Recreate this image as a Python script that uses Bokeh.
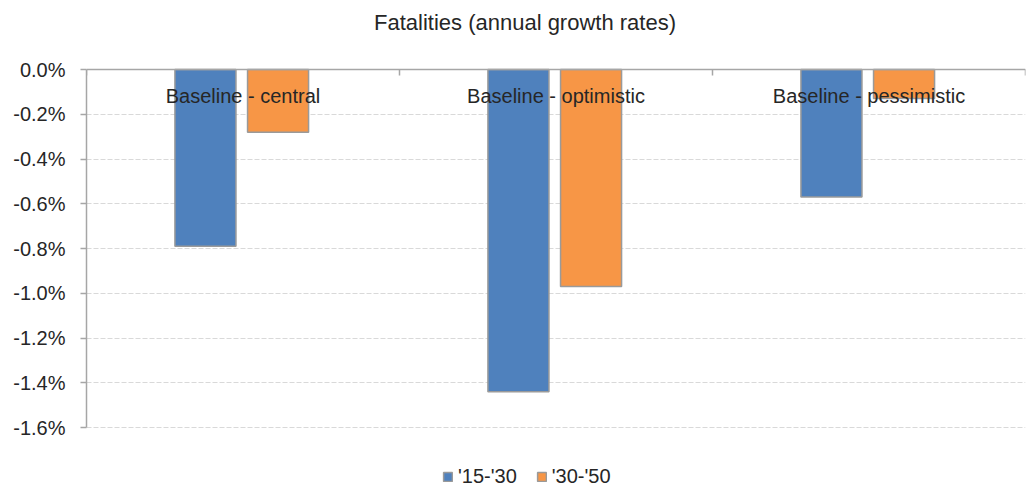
from bokeh.plotting import figure
from bokeh.models import (Range1d, FixedTicker, Span, Label,
                          PrintfTickFormatter, Legend, LegendItem, ColumnDataSource)
from bokeh.transform import dodge
from bokeh.core.properties import value
from bokeh.embed import file_html
from bokeh.resources import INLINE

# ---- data ----
categories = ["Baseline - central", "Baseline - optimistic", "Baseline - pessimistic"]
series_names = ["'15-'30", "'30-'50"]
growth_15_30 = [-0.79, -1.44, -0.57]
growth_30_50 = [-0.28, -0.97, -0.13]
y_ticks = [-1.6, -1.4, -1.2, -1.0, -0.8, -0.6, -0.4, -0.2, 0.0]
title_text = "Fatalities (annual growth rates)"

FONT = "Liberation Sans"
TXT = "#262626"
AXC = "#a6a6a6"

# layout (pixels): 0.0% at y=69, -1.6% at y=427; frame spans the full canvas height
W, H = 1028, 491
Y0_PX, YMIN_PX, TITLE_PX = 69, 427, 22
LEFT, RIGHT = 86, 3
px_per_unit = (YMIN_PX - Y0_PX) / (y_ticks[-1] - y_ticks[0])
y_top = y_ticks[-1] + Y0_PX / px_per_unit
y_bottom = y_ticks[-1] - (H - Y0_PX) / px_per_unit

n = len(categories)
p = figure(width=W, height=H,
           x_range=Range1d(0, n),
           y_range=Range1d(y_bottom, y_top),
           output_backend="svg", toolbar_location=None,
           x_axis_location=None,
           min_border_left=LEFT, min_border_right=RIGHT,
           min_border_top=0, min_border_bottom=0)
p.outline_line_color = None
p.background_fill_color = "white"
p.border_fill_color = "white"

# y axis
p.yaxis.ticker = FixedTicker(ticks=y_ticks)
p.yaxis.bounds = (y_ticks[0], y_ticks[-1])
p.yaxis.formatter = PrintfTickFormatter(format="%.1f%%")
p.yaxis.major_label_text_font = FONT
p.yaxis.major_label_text_font_size = "20px"
p.yaxis.major_label_text_color = TXT
p.yaxis.axis_line_color = AXC
p.yaxis.axis_line_width = 1.5
p.yaxis.major_tick_line_color = AXC
p.yaxis.major_tick_line_width = 1.5
p.yaxis.major_tick_out = 6
p.yaxis.major_tick_in = 0
p.yaxis.minor_tick_line_color = None
p.yaxis.major_label_standoff = 15

# grid
p.xgrid.grid_line_color = None
p.ygrid.ticker = FixedTicker(ticks=y_ticks)
p.ygrid.grid_line_color = "#d9d9d9"
p.ygrid.grid_line_dash = "5 2"
p.ygrid.grid_line_width = 1

src = ColumnDataSource(dict(cat=categories, pos=[i + 0.5 for i in range(n)],
                            a=growth_15_30, b=growth_30_50,
                            zero=[0.0] * n))

r1 = p.vbar(x=dodge("pos", -0.12), top="zero", bottom="a",
            width=0.195, source=src, fill_color="#4f81bd",
            line_color="#9a9a9a", line_width=1.5)
r2 = p.vbar(x=dodge("pos", 0.112), top="zero", bottom="b",
            width=0.195, source=src, fill_color="#f79646",
            line_color="#9a9a9a", line_width=1.5)

# category axis line at 0 with boundary ticks pointing down
p.add_layout(Span(location=0, dimension="width", line_color=AXC, line_width=1.5))
edges = list(range(n + 1))
p.segment(x0=edges, y0=[0.0] * len(edges), x1=edges,
          y1=[-6 / px_per_unit] * len(edges), line_color=AXC, line_width=1.5)

# category labels inside plot near the zero line
p.text(x="pos", y="zero", text="cat", source=src,
       text_align="center", text_baseline="middle", y_offset=26,
       text_font=value(FONT), text_font_size="20px", text_color=TXT)

# title
p.add_layout(Label(x=n / 2, y=y_ticks[-1] + (Y0_PX - TITLE_PX) / px_per_unit,
                   x_offset=-31, text=title_text, text_align="center",
                   text_baseline="middle", text_font=FONT,
                   text_font_size="22px", text_color=TXT))

legend = Legend(items=[LegendItem(label=series_names[0], renderers=[r1]),
                       LegendItem(label=series_names[1], renderers=[r2])],
                orientation="horizontal", location=(356, 3),
                glyph_width=11, glyph_height=11, label_standoff=5,
                label_height=20, spacing=19, padding=0, margin=0,
                border_line_color=None, background_fill_alpha=0,
                label_text_font=FONT, label_text_font_size="20px",
                label_text_color=TXT)
p.add_layout(legend, "center")

open("out.html", "w").write(file_html(p, INLINE))
